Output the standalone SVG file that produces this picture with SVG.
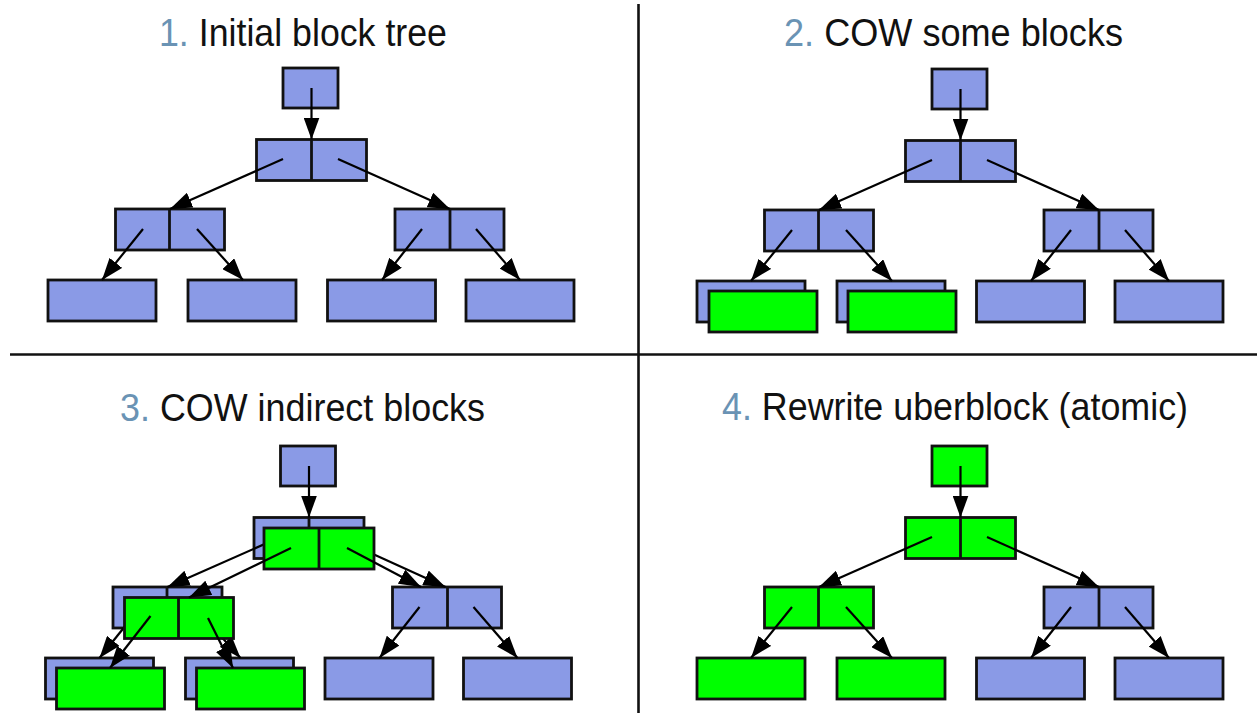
<svg xmlns="http://www.w3.org/2000/svg" width="1257" height="713" viewBox="0 0 1257 713">
  <defs>
    <style>
      .blue{fill:#8a9ae6;stroke:#111;stroke-width:2.8}
      .green{fill:#00ff00;stroke:#111;stroke-width:2.8}
      .div{stroke:#111;stroke-width:2.8}
      .edge{stroke:#000;stroke-width:2.2;fill:none;marker-end:url(#ah)}
      .title{font-family:"Liberation Sans",Arial,sans-serif;font-size:39px;fill:#111}
      .num{fill:#6a93b4}
      .rule{stroke:#111;stroke-width:2.6}
    </style>
    <marker id="ah" viewBox="0 0 22 16" refX="22" refY="8" markerWidth="22" markerHeight="16" markerUnits="userSpaceOnUse" orient="auto">
      <path d="M0,0 L22,8 L0,16 z" fill="#000"/>
    </marker>
  </defs>
  <rect width="1257" height="713" fill="#fff"/>

  <!-- quadrant rules -->
  <g id="rules">
    <line class="rule" x1="638.5" y1="4" x2="638.5" y2="713"/>
    <line class="rule" x1="10" y1="354.5" x2="1257" y2="354.5"/>
  </g>

  <!-- step titles -->
  <g id="titles">
    <text class="title" x="159" y="46" textLength="288" lengthAdjust="spacingAndGlyphs"><tspan class="num">1.</tspan> Initial block tree</text>
    <text class="title" x="784" y="46" textLength="339" lengthAdjust="spacingAndGlyphs"><tspan class="num">2.</tspan> COW some blocks</text>
    <text class="title" x="120" y="421" textLength="365" lengthAdjust="spacingAndGlyphs"><tspan class="num">3.</tspan> COW indirect blocks</text>
    <text class="title" x="722" y="420" textLength="466" lengthAdjust="spacingAndGlyphs"><tspan class="num">4.</tspan> Rewrite uberblock (atomic)</text>
  </g>

  <!-- step 1: initial tree -->
  <g id="panel1">
    <g id="p1-root"><rect class="blue" x="283" y="68" width="55" height="40"/></g>
    <g id="p1-mid"><rect class="blue" x="256.5" y="139.5" width="110" height="41"/><line class="div" x1="311.5" y1="139.5" x2="311.5" y2="180.5"/></g>
    <g id="p1-l2l"><rect class="blue" x="115.5" y="209" width="109" height="41"/><line class="div" x1="169.5" y1="209" x2="169.5" y2="250"/></g>
    <g id="p1-l2r"><rect class="blue" x="395" y="209" width="109" height="41"/><line class="div" x1="450" y1="209" x2="450" y2="250"/></g>
    <g id="p1-leaf1"><rect class="blue" x="48" y="280" width="108" height="41"/></g>
    <g id="p1-leaf2"><rect class="blue" x="188" y="280" width="108" height="41"/></g>
    <g id="p1-leaf3"><rect class="blue" x="327.5" y="280" width="108" height="41"/></g>
    <g id="p1-leaf4"><rect class="blue" x="466" y="280" width="108" height="41"/></g>
    <g id="p1-edges">
      <line class="edge" x1="311.5" y1="88" x2="311.5" y2="139.5"/>
      <line class="edge" x1="283" y1="159" x2="170" y2="209"/>
      <line class="edge" x1="338" y1="159" x2="450" y2="209"/>
      <line class="edge" x1="143" y1="229" x2="102" y2="280"/>
      <line class="edge" x1="197" y1="229" x2="243" y2="280"/>
      <line class="edge" x1="422" y1="229" x2="382" y2="280"/>
      <line class="edge" x1="476" y1="229" x2="520" y2="280"/>
    </g>
  </g>

  <!-- step 2: copy-on-write of two data blocks -->
  <g id="panel2" transform="translate(649,1)">
    <g id="p2-root"><rect class="blue" x="283" y="68" width="55" height="40"/></g>
    <g id="p2-mid"><rect class="blue" x="256.5" y="139.5" width="110" height="41"/><line class="div" x1="311.5" y1="139.5" x2="311.5" y2="180.5"/></g>
    <g id="p2-l2l"><rect class="blue" x="115.5" y="209" width="109" height="41"/><line class="div" x1="169.5" y1="209" x2="169.5" y2="250"/></g>
    <g id="p2-l2r"><rect class="blue" x="395" y="209" width="109" height="41"/><line class="div" x1="450" y1="209" x2="450" y2="250"/></g>
    <g id="p2-leaf1"><rect class="blue" x="48" y="280" width="108" height="41"/></g>
    <g id="p2-leaf2"><rect class="blue" x="188" y="280" width="108" height="41"/></g>
    <g id="p2-leaf3"><rect class="blue" x="327.5" y="280" width="108" height="41"/></g>
    <g id="p2-leaf4"><rect class="blue" x="466" y="280" width="108" height="41"/></g>
    <g id="p2-leaf1-copy"><rect class="green" x="60" y="290" width="108" height="41"/></g>
    <g id="p2-leaf2-copy"><rect class="green" x="199" y="290" width="108" height="41"/></g>
    <g id="p2-edges">
      <line class="edge" x1="311.5" y1="88" x2="311.5" y2="139.5"/>
      <line class="edge" x1="283" y1="159" x2="170" y2="209"/>
      <line class="edge" x1="338" y1="159" x2="450" y2="209"/>
      <line class="edge" x1="143" y1="229" x2="102" y2="280"/>
      <line class="edge" x1="197" y1="229" x2="243" y2="280"/>
      <line class="edge" x1="422" y1="229" x2="382" y2="280"/>
      <line class="edge" x1="476" y1="229" x2="520" y2="280"/>
    </g>
  </g>

  <!-- step 3: copy-on-write of the indirect blocks -->
  <g id="panel3" transform="translate(-2.5,378)">
    <g id="p3-root"><rect class="blue" x="283" y="68" width="55" height="40"/></g>
    <g id="p3-mid"><rect class="blue" x="256.5" y="139.5" width="110" height="41"/><line class="div" x1="311.5" y1="139.5" x2="311.5" y2="180.5"/></g>
    <g id="p3-l2l"><rect class="blue" x="115.5" y="209" width="109" height="41"/><line class="div" x1="169.5" y1="209" x2="169.5" y2="250"/></g>
    <g id="p3-l2r"><rect class="blue" x="395" y="209" width="109" height="41"/><line class="div" x1="450" y1="209" x2="450" y2="250"/></g>
    <g id="p3-leaf1"><rect class="blue" x="48" y="280" width="108" height="41"/></g>
    <g id="p3-leaf2"><rect class="blue" x="188" y="280" width="108" height="41"/></g>
    <g id="p3-leaf3"><rect class="blue" x="327.5" y="280" width="108" height="41"/></g>
    <g id="p3-leaf4"><rect class="blue" x="466" y="280" width="108" height="41"/></g>
    <g id="p3-edges-old">
      <line class="edge" x1="311.5" y1="88" x2="311.5" y2="139.5"/>
      <line class="edge" x1="283" y1="159" x2="170" y2="209"/>
      <line class="edge" x1="338" y1="159" x2="448" y2="209"/>
      <line class="edge" x1="143" y1="229" x2="102" y2="280"/>
      <line class="edge" x1="197" y1="229" x2="243" y2="280"/>
      <line class="edge" x1="422" y1="229" x2="382" y2="280"/>
      <line class="edge" x1="476" y1="229" x2="520" y2="280"/>
    </g>
    <g id="p3-mid-copy"><rect class="green" x="266.5" y="150" width="110" height="41"/><line class="div" x1="321.5" y1="150" x2="321.5" y2="191"/></g>
    <g id="p3-l2l-copy"><rect class="green" x="127" y="219.5" width="109" height="41"/><line class="div" x1="181" y1="219.5" x2="181" y2="260.5"/></g>
    <g id="p3-leaf1-copy"><rect class="green" x="59" y="290" width="108" height="41"/></g>
    <g id="p3-leaf2-copy"><rect class="green" x="199" y="290" width="108" height="41"/></g>
    <g id="p3-edges-new">
      <line class="edge" x1="293.5" y1="170" x2="191.5" y2="219.5"/>
      <line class="edge" x1="349.5" y1="170" x2="423.5" y2="209"/>
      <line class="edge" x1="153" y1="238" x2="112.5" y2="290"/>
      <line class="edge" x1="210.5" y1="240" x2="235.5" y2="290"/>
    </g>
  </g>

  <!-- step 4: new uberblock points at the new tree -->
  <g id="panel4" transform="translate(649,378)">
    <g id="p4-root"><rect class="green" x="283" y="68" width="55" height="40"/></g>
    <g id="p4-mid"><rect class="green" x="256.5" y="139.5" width="110" height="41"/><line class="div" x1="311.5" y1="139.5" x2="311.5" y2="180.5"/></g>
    <g id="p4-l2l"><rect class="green" x="115.5" y="209" width="109" height="41"/><line class="div" x1="169.5" y1="209" x2="169.5" y2="250"/></g>
    <g id="p4-l2r"><rect class="blue" x="395" y="209" width="109" height="41"/><line class="div" x1="450" y1="209" x2="450" y2="250"/></g>
    <g id="p4-leaf1"><rect class="green" x="48" y="280" width="108" height="41"/></g>
    <g id="p4-leaf2"><rect class="green" x="188" y="280" width="108" height="41"/></g>
    <g id="p4-leaf3"><rect class="blue" x="327.5" y="280" width="108" height="41"/></g>
    <g id="p4-leaf4"><rect class="blue" x="466" y="280" width="108" height="41"/></g>
    <g id="p4-edges">
      <line class="edge" x1="311.5" y1="88" x2="311.5" y2="139.5"/>
      <line class="edge" x1="283" y1="159" x2="170" y2="209"/>
      <line class="edge" x1="338" y1="159" x2="450" y2="209"/>
      <line class="edge" x1="143" y1="229" x2="102" y2="280"/>
      <line class="edge" x1="197" y1="229" x2="243" y2="280"/>
      <line class="edge" x1="422" y1="229" x2="382" y2="280"/>
      <line class="edge" x1="476" y1="229" x2="520" y2="280"/>
    </g>
  </g>
</svg>
